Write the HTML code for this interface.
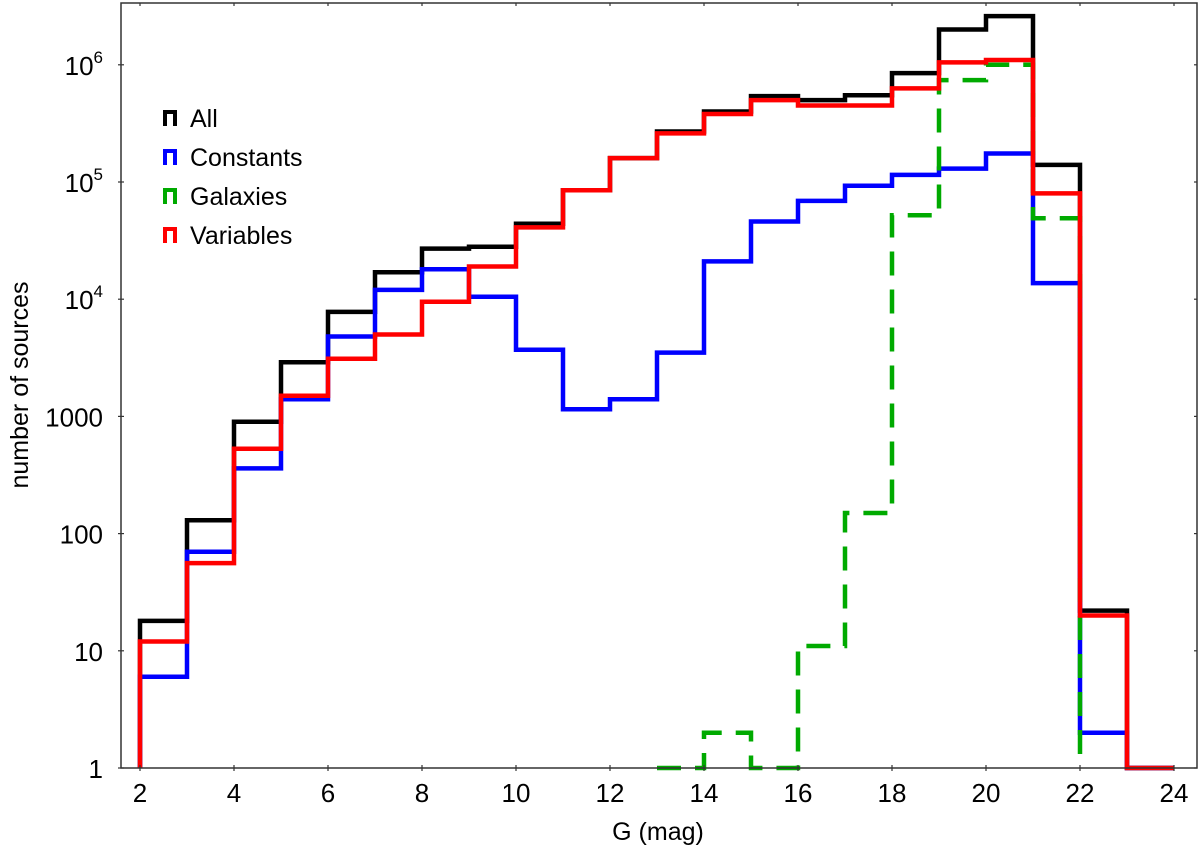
<!DOCTYPE html>
<html><head><meta charset="utf-8"><style>
body{margin:0;background:#fff}
svg text{font-family:"Liberation Sans","DejaVu Sans",sans-serif;fill:#000}
</style></head><body>
<svg id="chart" width="1200" height="855" xmlns="http://www.w3.org/2000/svg"></svg>
<script>
const edges=[2,3,4,5,6,7,8,9,10,11,12,13,14,15,16,17,18,19,20,21,22,23,24];
const allVals=[18,130,900,2900,7800,17000,27000,28000,44000,85000,160000,270000,400000,540000,500000,550000,850000,2000000,2600000,140000,22,1];
const constVals=[6,70,360,1400,4800,12000,18000,10500,3700,1150,1400,3500,21000,46000,69000,93000,115000,130000,175000,13700,2,1];
const galEdges=[13,14,15,16,17,18,19,20,21,22];
const galVals=[1,2,1,11,150,52000,740000,1000000,49000];
const varVals=[12,56,530,1500,3100,5000,9500,19000,41000,85000,160000,260000,380000,500000,450000,450000,630000,1050000,1100000,80000,20,1];
const xTicks=[2,4,6,8,10,12,14,16,18,20,22,24];
const yTicks=[1,10,100,1000,1e4,1e5,1e6];
const yTickLabels=["1","10","100","1000","10^4","10^5","10^6"];

const L=121,R=1197,T=3,B=768;
const x=v=>140+(v-2)*(1174-140)/22;
const y=v=>B-Math.log10(v)*117.2;
const svg=document.getElementById('chart');
const NS='http://www.w3.org/2000/svg';
function mk(t,a,p){const e=document.createElementNS(NS,t);for(const k in a)e.setAttribute(k,a[k]);(p||svg).appendChild(e);return e;}

function step(ed,vals,color,name,dash){
  let d=`M${x(ed[0])},${B}`;
  vals.forEach((v,i)=>{d+=` L${x(ed[i])},${y(v)} L${x(ed[i+1])},${y(v)}`;});
  d+=` L${x(ed[vals.length])},${B}`;
  const p=mk('path',{d,fill:'none',stroke:color,'stroke-width':4.5,'stroke-linejoin':'miter'});
  if(dash)p.setAttribute('stroke-dasharray',dash);
  
  
}
step(edges,allVals,'#000','series-all');
step(edges,constVals,'#0000ff','series-constants');
step(galEdges,galVals,'#00aa00','series-galaxies','24,14');
step(edges,varVals,'#ff0000','series-variables');

const fr=mk('rect',{x:L,y:T,width:R-L,height:B-T,fill:'none',stroke:'#333','stroke-width':1.5});



xTicks.forEach(v=>{
  mk('line',{x1:x(v),x2:x(v),y1:B+3,y2:B-3,stroke:'#333','stroke-width':1.2});
  mk('line',{x1:x(v),x2:x(v),y1:T,y2:T+3,stroke:'#333','stroke-width':1.2});
  const t=mk('text',{x:x(v),y:B+34,'text-anchor':'middle','font-size':26});
  t.textContent=v;
  
  
});
yTicks.forEach((v,i)=>{
  mk('line',{x1:L-3,x2:L+3,y1:y(v),y2:y(v),stroke:'#333','stroke-width':1.2});
  mk('line',{x1:R,x2:R-3,y1:y(v),y2:y(v),stroke:'#333','stroke-width':1.2});
  const lab=yTickLabels[i];
  const t=mk('text',{x:103,y:y(v)+10,'text-anchor':'end','font-size':26});
  if(lab.indexOf('^')>0){
    const [b,e]=lab.split('^');
    const s1=mk('tspan',{},t);s1.textContent=b;
    const s2=mk('tspan',{dy:-12,'font-size':17},t);s2.textContent=e;
  } else t.textContent=lab;
  
  
});
const xt=mk('text',{x:658,y:840,'text-anchor':'middle','font-size':25});xt.textContent='G (mag)';

const yt=mk('text',{x:0,y:0,'text-anchor':'middle','font-size':25,transform:'translate(28,385) rotate(-90)'});yt.textContent='number of sources';


const leg=[['All','#000'],['Constants','#0000ff'],['Galaxies','#00aa00'],['Variables','#ff0000']];
leg.forEach((l,i)=>{
  const cy=118+i*39;
  const g=mk('g',{});
  
  
  mk('path',{d:`M165,${cy+8} L165,${cy-6} L175,${cy-6} L175,${cy+8}`,fill:'none',stroke:l[1],'stroke-width':4},g);
  const t=mk('text',{x:190,y:cy+9,'font-size':25},g);t.textContent=l[0];
});
</script>
</body></html>
